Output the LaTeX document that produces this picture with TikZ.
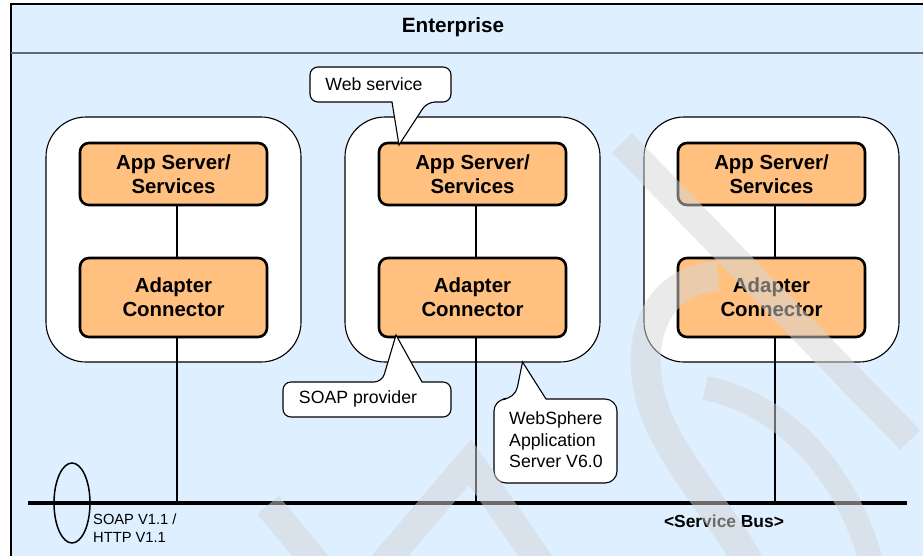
\documentclass[tikz,border=0pt]{standalone}
\usepackage{fontspec}
\setmainfont{Liberation Sans}
\usetikzlibrary{shapes.geometric}
\definecolor{bgblue}{RGB}{222,239,255}
\definecolor{boxorange}{RGB}{255,192,128}
\definecolor{sepgray}{RGB}{95,107,115}
\definecolor{wmgray}{RGB}{214,214,214}
\begin{document}
\begin{tikzpicture}[x=1pt,y=-1pt,
  container/.style={draw, fill=white, line width=1.1pt, rounded corners=40pt, minimum width=255pt, minimum height=245pt, inner sep=0pt},
  orangebox/.style={draw, fill=boxorange, line width=2.6pt, rounded corners=9pt, minimum width=187pt, align=center, font=\fontsize{20.4}{24}\selectfont\bfseries, inner sep=0pt},
  link/.style={line width=2.5pt},
  callout/.style={draw, fill=white, line width=1.1pt, line join=miter},
  calltext/.style={font=\fontsize{17.7}{21.5}\selectfont, inner sep=0pt},
  wm/.style={draw=wmgray, opacity=0.5, line width=28pt}
]
\useasboundingbox (0,0) rectangle (923,555);
\clip (0,0) rectangle (923,555);

% frame
\draw[fill=bgblue, line width=1.5pt] (11,4) rectangle (945,575);
\draw[draw=sepgray, line width=2.6pt] (11,53) -- (945,53);
\node[font=\fontsize{20.7}{24}\selectfont\bfseries, inner sep=0pt] (title) at (453,27) {Enterprise};

% containers
\node[container] (c1) at (173.5,239.5) {};
\node[container] (c2) at (472.5,239.5) {};
\node[container] (c3) at (771.5,239.5) {};

% orange boxes
\foreach \i/\x in {1/173.5, 2/472.5, 3/771.5} {
  \node[orangebox, minimum height=62pt] (app\i) at (\x,174) {App Server/\\Services};
  \node[orangebox, minimum height=79pt] (ad\i) at (\x,297.5) {Adapter\\Connector};
}

% bus
\coordinate (busL) at (28,503);
\coordinate (busR) at (907,503);
\coordinate (b1) at (177,503);
\coordinate (b2) at (476,503);
\coordinate (b3) at (775,503);
\foreach \i in {1,2,3} {
  \draw[link] ([xshift=3.5pt]app\i.south) -- ([xshift=3.5pt]ad\i.north);
  \draw[link] ([xshift=3.5pt]ad\i.south) -- (b\i);
}
\draw[line width=3.2pt] (busL) -- (busR);

\node[draw, ellipse, line width=1.5pt, minimum width=36pt, minimum height=80pt, inner sep=0pt] (ring) at (72,503) {};
\node[anchor=west, align=left, font=\fontsize{14.7}{18}\selectfont, inner sep=0pt] (proto) at (93,528) {SOAP V1.1 /\\HTTP V1.1};
\node[font=\fontsize{17.4}{20}\selectfont\bfseries, inner sep=0pt] (bus) at (724,521) {<Service Bus>};

% callouts
\draw[callout] (399,145) -- (392,102) [rounded corners=8pt] -- (310,102) -- (310,67) -- (451,67) -- (451,102) -- (427,102) [sharp corners] -- cycle;
\node[calltext] (ws) at (374,84) {Web service};

\draw[callout] (396,335) -- (422,382) [rounded corners=8pt] -- (451,382) -- (451,417) -- (283,417) -- (283,382) -- (382,382) [sharp corners] -- cycle;
\node[calltext] (soap) at (358,399) {SOAP provider};

\draw[callout] (522.5,362) -- (546,399) [rounded corners=12pt] -- (617,399) -- (617,483) -- (494,483) -- (494,399) -- (515,399) [sharp corners] -- cycle;
\node[calltext, anchor=west, align=left] (was) at (509,440) {WebSphere\\Application\\Server V6.0};

% watermark
\draw[wm] (622,143) -- (910,440);
\draw[wm, line width=30pt] (718,276) .. controls (640,282) and (628,370) .. (668,440) .. controls (695,488) and (725,520) .. (750,565);
\draw[wm, line width=24pt] (705,388) .. controls (790,405) and (850,480) .. (872,565);
\draw[wm] (268,505) -- (318,565);
\draw[wm, line join=miter] (378,570) -- (470,462) -- (545,570);
\end{tikzpicture}
\end{document}
